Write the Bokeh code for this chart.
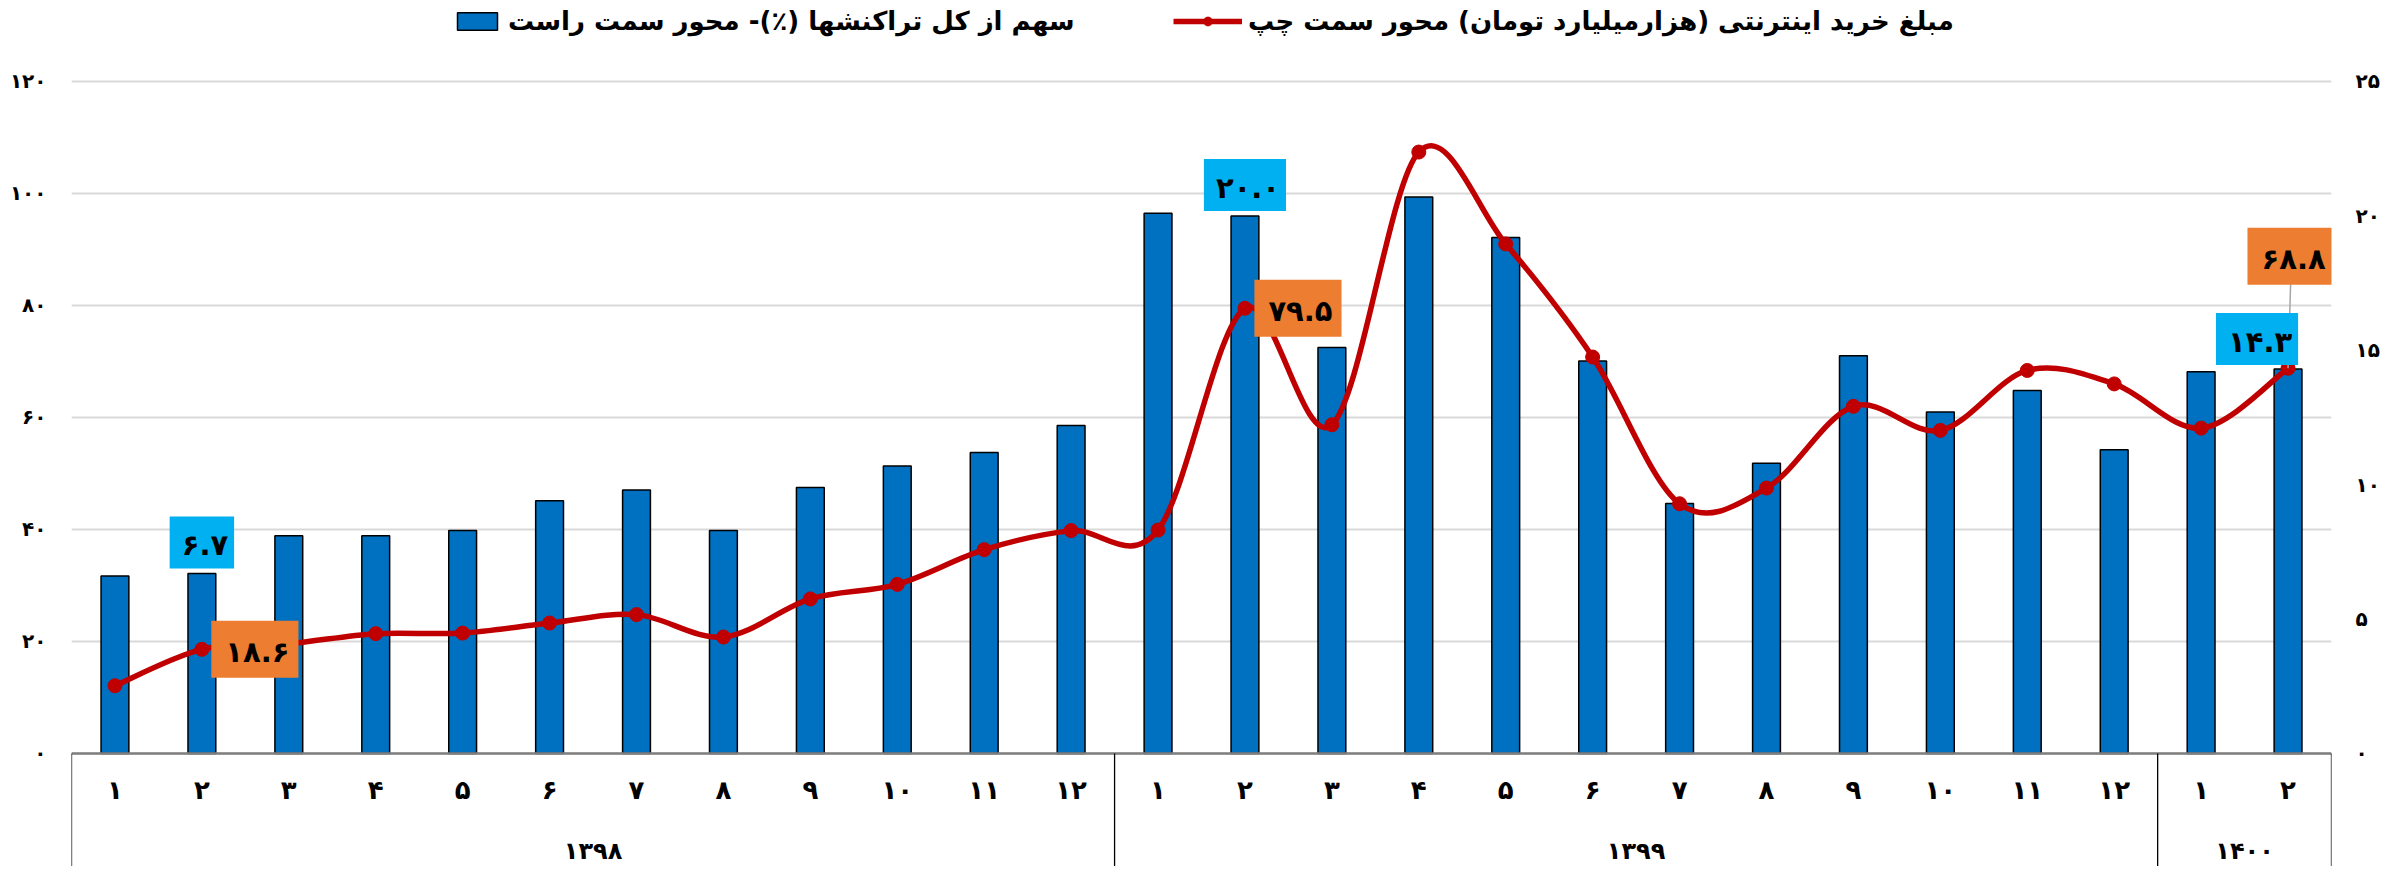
from bokeh.plotting import figure
from bokeh.models import (FactorRange, Range1d, LinearAxis, FixedTicker, Legend,
                          LegendItem, Label, ColumnDataSource)
from bokeh.core.properties import value
from bokeh.embed import file_html
from bokeh.resources import INLINE

# ---------------- data ----------------
years = ["۱۳۹۸", "۱۳۹۹", "۱۴۰۰"]
months_1398 = ["۱", "۲", "۳", "۴", "۵", "۶", "۷", "۸", "۹", "۱۰", "۱۱", "۱۲"]
months_1399 = ["۱", "۲", "۳", "۴", "۵", "۶", "۷", "۸", "۹", "۱۰", "۱۱", "۱۲"]
months_1400 = ["۱", "۲"]

# share of all transactions (%) - right axis
share_pct = [6.6, 6.7, 8.1, 8.1, 8.3, 9.4, 9.8, 8.3, 9.9, 10.7, 11.2, 12.2,
             20.1, 20.0, 15.1, 20.7, 19.2, 14.6, 9.3, 10.8, 14.8, 12.7, 13.5, 11.3,
             14.2, 14.3]
# online purchase amount (thousand billion toman) - left axis
purchase = [12.1, 18.6, 19.6, 21.4, 21.5, 23.3, 24.8, 20.8, 27.6, 30.2, 36.4, 39.8,
            39.9, 79.5, 58.7, 107.4, 91.0, 70.8, 44.6, 47.4, 62.0, 57.7, 68.4, 66.0,
            58.1, 68.8]

left_ticks = [0, 20, 40, 60, 80, 100, 120]
left_tick_labels = ["۰", "۲۰", "۴۰", "۶۰", "۸۰", "۱۰۰", "۱۲۰"]
right_ticks = [0, 5, 10, 15, 20, 25]
right_tick_labels = ["۰", "۵", "۱۰", "۱۵", "۲۰", "۲۵"]

legend_share = "سهم از کل تراکنشها (٪)- محور سمت راست"
legend_purchase = "مبلغ خرید اینترنتی (هزارمیلیارد تومان) محور سمت چپ"

labeled_share_idx = [1, 13, 25]
labeled_purchase_idx = [1, 13, 25]

# ---------------- styles ----------------
FONT = value("DejaVu Sans")
FONT_NAME = "DejaVu Sans"
BLUE = "#0070C0"
RED = "#C00000"
CYAN = "#00B0F0"
ORANGE = "#ED7D31"
GRID = "#D9D9D9"

def fa(v):
    return ("%.1f" % v).translate(str.maketrans("0123456789", "۰۱۲۳۴۵۶۷۸۹"))

months_per_year = [months_1398, months_1399, months_1400]
x_factors = [(y, m) for y, ms in zip(years, months_per_year) for m in ms]
month_labels = [m for ms in months_per_year for m in ms]
n = len(x_factors)
xs = [i + 0.5 for i in range(n)]

W, H = 2389, 866
p = figure(width=W, height=H, output_backend="svg", toolbar_location=None,
           x_range=FactorRange(*x_factors, factor_padding=0, group_padding=0,
                               subgroup_padding=0, range_padding=0),
           y_range=Range1d(-20.179, 134.464), x_axis_location=None,
           min_border_left=71, min_border_right=58, min_border_top=0, min_border_bottom=0)
p.extra_y_ranges = {"right": Range1d(-4.204, 28.013)}
p.outline_line_color = None
p.background_fill_color = "white"
p.border_fill_color = "white"

# axes
yl = p.yaxis[0]
yl.ticker = FixedTicker(ticks=left_ticks)
yl.major_label_overrides = dict(zip(left_ticks, left_tick_labels))
yr = LinearAxis(y_range_name="right", ticker=FixedTicker(ticks=right_ticks),
                major_label_overrides=dict(zip(right_ticks, right_tick_labels)))
p.add_layout(yr, "right")
for ax, so in ((yl, 25), (yr, 24)):
    ax.axis_line_color = None
    ax.major_tick_line_color = None
    ax.minor_tick_line_color = None
    ax.major_tick_out = 0
    ax.major_tick_in = 0
    ax.minor_tick_out = 0
    ax.major_label_standoff = so
    ax.major_label_text_font = FONT_NAME
    ax.major_label_text_font_size = "20px"
    ax.major_label_text_font_style = "bold"
    ax.major_label_text_color = "black"

p.ygrid.ticker = FixedTicker(ticks=left_ticks)
p.ygrid.grid_line_color = GRID
p.ygrid.grid_line_width = 2
p.xgrid.visible = False

# bars
bars = p.vbar(x=x_factors, top=share_pct, width=0.32, y_range_name="right",
              fill_color=BLUE, line_color="black", line_width=1.5)

# smoothed line (Catmull-Rom style bezier through the data points)
bz = dict(x0=[], y0=[], x1=[], y1=[], cx0=[], cy0=[], cx1=[], cy1=[])
for i in range(n - 1):
    a = max(i - 1, 0)
    d = min(i + 2, n - 1)
    bz["x0"].append(xs[i]); bz["y0"].append(purchase[i])
    bz["x1"].append(xs[i + 1]); bz["y1"].append(purchase[i + 1])
    bz["cx0"].append(xs[i] + (xs[i + 1] - xs[a]) / 6)
    bz["cy0"].append(purchase[i] + (purchase[i + 1] - purchase[a]) / 6)
    bz["cx1"].append(xs[i + 1] - (xs[d] - xs[i]) / 6)
    bz["cy1"].append(purchase[i + 1] - (purchase[d] - purchase[i]) / 6)
curve = p.bezier(source=ColumnDataSource(bz), line_color=RED, line_width=5.5)
dots = p.scatter(x=x_factors, y=purchase, marker="circle", size=14,
                 fill_color=RED, line_color=RED)

# category "table" axis
bottom = p.y_range.start
bounds = [0]
for ms in months_per_year:
    bounds.append(bounds[-1] + len(ms))
p.segment(x0=[0], y0=[0], x1=[n], y1=[0], line_color="#7F7F7F", line_width=2.5)
p.segment(x0=bounds, y0=[0] * len(bounds), x1=bounds, y1=[bottom] * len(bounds),
          line_color="black", line_width=1.3)
MONTH_Y = -6.6
YEAR_Y = -17.5
p.text(x=x_factors, y=[MONTH_Y] * n, text=month_labels, text_align="center",
       text_baseline="middle", text_font=FONT, text_font_size="26px",
       text_font_style="bold", text_color="black")
p.text(x=years, y=[YEAR_Y] * len(years), text=years, text_align="center",
       text_baseline="middle", text_font=FONT, text_font_size="24px",
       text_font_style="bold", text_color="black")

# data labels
share_offsets = {1: (0, 31), 13: (0, 31), 25: (-31, 30)}
for i in labeled_share_idx:
    dx, dy = share_offsets[i]
    p.add_layout(Label(x=xs[i], y=share_pct[i], y_range_name="right", text=fa(share_pct[i]),
                       x_offset=dx, y_offset=dy, text_align="center", text_baseline="middle",
                       text_font=FONT_NAME, text_font_size="29px", text_font_style="bold",
                       text_color="black", background_fill_color=CYAN,
                       padding=(12, 6, 12, 6)))
purchase_offsets = {1: (53, 0), 13: (53, 0), 25: (3, 112)}
last = labeled_purchase_idx[-1]
p.segment(x0=[xs[last]], y0=[purchase[last]], x1=[xs[last] + 0.03], y1=[purchase[last] + 15.2],
          line_color="#A6A6A6", line_width=1.5)
for i in labeled_purchase_idx:
    dx, dy = purchase_offsets[i]
    p.add_layout(Label(x=xs[i], y=purchase[i], text=fa(purchase[i]),
                       x_offset=dx, y_offset=dy, text_align="center", text_baseline="middle",
                       text_font=FONT_NAME, text_font_size="29px", text_font_style="bold",
                       text_color="black", background_fill_color=ORANGE,
                       padding=(14, 9, 14, 9)))

# legends
def make_legend(label, rends, loc, gw):
    return Legend(items=[LegendItem(label=label, renderers=rends)], location=loc,
                  orientation="horizontal", glyph_width=gw, glyph_height=22,
                  label_text_font=FONT_NAME, label_text_font_size="26px",
                  label_text_font_style="bold", label_text_color="black",
                  label_standoff=6, padding=0, margin=0, spacing=0,
                  border_line_color=None, background_fill_alpha=0)

p.add_layout(make_legend(legend_share, [bars], (381, 830), 50))
p.add_layout(make_legend(legend_purchase, [curve, dots], (1102, 830), 69))

open("out.html", "w", encoding="utf-8").write(file_html(p, INLINE))
